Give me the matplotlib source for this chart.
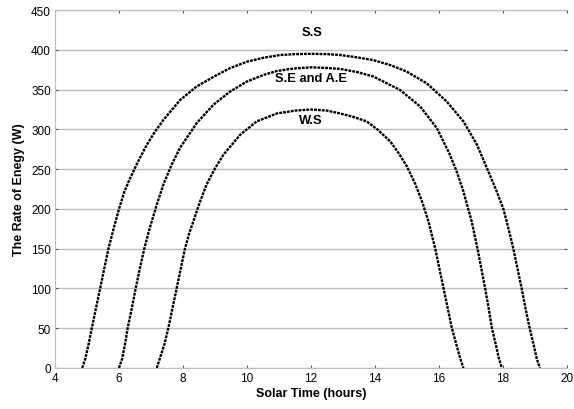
import matplotlib.pyplot as plt

# valores
ss_x = [4.85, 4.95, 5.05, 5.15, 5.28, 5.41, 5.54, 5.67, 5.83, 6.0, 6.17, 6.34, 6.6, 6.86, 7.12, 7.39,
        7.91, 8.43, 8.95, 9.47, 9.99, 10.51, 11.03, 11.5, 12.0, 12.5, 12.91, 13.45, 13.95, 14.5, 14.99,
        15.61, 16.24, 16.76, 17.18, 17.54, 17.8, 18.01, 18.17, 18.32, 18.45, 18.58, 18.7, 18.83,
        18.95, 19.05, 19.15]
ss_y = [0, 12, 30, 50, 75, 100, 125, 150, 175, 200, 222, 238, 260, 280, 297, 312,
        337, 354, 366, 377, 385, 390, 393.5, 394.6, 395, 394.6, 393.5, 390.5, 387, 380.5, 372.6,
        358, 335, 310, 281, 247, 222, 200, 175, 150, 125, 100, 75, 50,
        30, 12, 0]

se_x = [6.0, 6.1, 6.18, 6.27, 6.4, 6.52, 6.65, 6.79, 6.92, 7.02, 7.2, 7.39, 7.65, 7.91, 8.43, 8.95,
        9.47, 9.99, 10.51, 10.93, 11.45, 12.0, 12.5, 12.91, 13.45, 13.95, 14.78, 15.41, 15.93, 16.34,
        16.56, 16.76, 17.02, 17.2, 17.32, 17.44, 17.55, 17.65, 17.78, 17.87, 17.96]
se_y = [0, 12, 28, 50, 75, 100, 125, 150, 170, 184, 208, 231, 256, 277, 308, 331,
        347.5, 360, 368.4, 373.4, 376.5, 378, 377.2, 376, 372, 366.4, 349.6, 328.7, 301.6, 268,
        246, 222, 184, 150, 125, 100, 75, 50, 28, 12, 0]

ws_x = [7.18, 7.3, 7.42, 7.54, 7.67, 7.8, 7.93, 8.06, 8.2, 8.32, 8.52, 8.74, 9.0, 9.26, 9.78, 10.3,
        10.93, 11.5, 12.0, 12.5, 12.91, 13.3, 13.74, 14.1, 14.47, 14.74, 15.0, 15.26, 15.48, 15.67,
        15.88, 16.01, 16.14, 16.27, 16.4, 16.55, 16.66, 16.76]
ws_y = [0, 15, 30, 50, 75, 100, 125, 150, 170, 184, 208, 231, 251, 268, 293, 310,
        320, 323.6, 325, 323.6, 320, 316, 310, 299, 285, 270, 253, 231, 208, 184,
        150, 125, 100, 75, 50, 28, 12, 0]

labels = ['S.S', 'S.E and A.E', 'W.S']
label_pos = [(12.02, 422), (12.0, 365), (12.0, 312)]

plt.rcParams['font.family'] = ['Liberation Sans', 'DejaVu Sans']

fig = plt.figure(figsize=(5.74, 4.10), dpi=100)
ax = fig.add_axes([0.0958, 0.1, 0.8922, 0.873])

for xs, ys in [(ss_x, ss_y), (se_x, se_y), (ws_x, ws_y)]:
    ax.plot(xs, ys, color='black', lw=1.7, linestyle=(0, (1.2, 0.45)),
            dash_capstyle='butt', solid_joinstyle='round')

for t, (x, y) in zip(labels, label_pos):
    ax.text(x, y, t, ha='center', va='center', fontsize=9.3, fontweight='bold')

ax.set_xlim(4, 20)
ax.set_ylim(0, 450)
ax.set_xticks(range(4, 21, 2))
ax.set_yticks(range(0, 451, 50))
ax.yaxis.grid(True, color='#bdbdbd', lw=1)
ax.set_axisbelow(True)
for s in ['left', 'bottom', 'top']:
    ax.spines[s].set_color('#bdbdbd')
ax.spines['right'].set_visible(False)
ax.tick_params(direction='in', length=2.5, color='#555555', labelsize=8.5,
               top=True, right=True, pad=3)
ax.set_xlabel('Solar Time (hours)', fontsize=9, fontweight='bold', labelpad=2)
ax.set_ylabel('The Rate of Enegy (W)', fontsize=9, fontweight='bold', labelpad=4)

plt.savefig('out.png', dpi=100)
